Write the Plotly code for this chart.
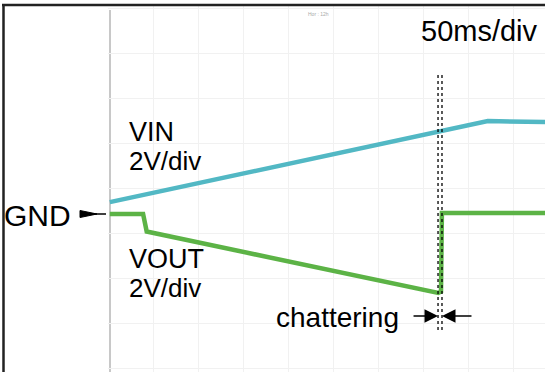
import plotly.graph_objects as go

# --- data (time in ms, voltage in V relative to GND marker) ---
vin_t = [2, 422, 486]
vin_v = [0.53, 4.13, 4.09]

vout_t = [2, 39, 43, 367, 370, 371, 486]
vout_v = [0.0, 0.0, -0.78, -3.51, -3.45, 0.04, 0.04]

chatter_start = 366.7
chatter_end = 371.1

# --- figure geometry (pixels) ---
W, H = 545, 372
L, T = 108, 5
PW, PH = W - L, H - T
MS_PER_PX = 50 / 45.0
V_PER_PX = 2 / 45.0
GND_PY = 214

x_range = [0, PW * MS_PER_PX]
y_range = [(GND_PY - H) * V_PER_PX, (GND_PY - T) * V_PER_PX]


def px(x):
    return (x - L) / PW


def py(y):
    return (H - y) / PH


def vy(y):
    return (GND_PY - y) * V_PER_PX


fig = go.Figure()
fig.add_trace(go.Scatter(x=vin_t, y=vin_v, mode="lines",
                         line=dict(color="#52b8c4", width=4.5), hoverinfo="skip"))
fig.add_trace(go.Scatter(x=vout_t, y=vout_v, mode="lines",
                         line=dict(color="#5cb346", width=4.5), hoverinfo="skip"))

shapes = []
# frame
shapes.append(dict(type="line", xref="paper", yref="paper", x0=px(2), x1=px(W),
                   y0=py(5), y1=py(5), line=dict(color="#222", width=2.5)))
shapes.append(dict(type="line", xref="paper", yref="paper", x0=px(3.5), x1=px(3.5),
                   y0=py(5), y1=py(H), line=dict(color="#222", width=2.5)))
# scope left edge
shapes.append(dict(type="line", xref="paper", yref="paper", x0=px(110), x1=px(110),
                   y0=py(10), y1=py(H), line=dict(color="#c8c8c8", width=2), layer="below"))
# chattering markers
for t in (chatter_start, chatter_end):
    shapes.append(dict(type="line", xref="x", yref="y", x0=t, x1=t,
                       y0=vy(75), y1=vy(332), line=dict(color="black", width=1.3, dash="dot")))
# GND arrow
shapes.append(dict(type="line", xref="paper", yref="paper", x0=px(80), x1=px(106),
                   y0=py(GND_PY), y1=py(GND_PY), line=dict(color="black", width=1.5)))
shapes.append(dict(type="path", xref="paper", yref="paper",
                   path=f"M {px(80)} {py(GND_PY-3.5)} L {px(97)} {py(GND_PY)} L {px(80)} {py(GND_PY+3.5)} Z",
                   fillcolor="black", line=dict(color="black", width=1)))

FAMILY = "Liberation Sans, Arial, sans-serif"
ann = []


def text(s, x, y, size=26, color="black", anchor="left"):
    ann.append(dict(text=s, xref="paper", yref="paper", x=px(x), y=py(y), showarrow=False,
                    xanchor=anchor, yanchor="middle",
                    font=dict(family=FAMILY, size=size, color=color)))


text("50ms/div", 419, 31, size=29)
text("VIN", 127, 132, size=27)
text("2V/div", 127, 161)
text("GND", 2, 215, size=30)
text("VOUT", 127, 259, size=27)
text("2V/div", 127, 288)
text("chattering", 274, 317, size=28)
text("Hor : 12h", 318, 14, size=5, color="#aaa", anchor="center")

arrow_y = vy(316)
ann.append(dict(x=chatter_start, y=arrow_y, xref="x", yref="y", ax=-26, ay=0, text="",
                showarrow=True, arrowhead=2, arrowsize=1.8, arrowwidth=1.5, arrowcolor="black",
                standoff=0))
ann.append(dict(x=chatter_end, y=arrow_y, xref="x", yref="y", ax=31, ay=0, text="",
                showarrow=True, arrowhead=2, arrowsize=1.8, arrowwidth=1.5, arrowcolor="black",
                standoff=0))

fig.update_layout(
    width=W, height=H, margin=dict(l=L, r=0, t=T, b=0),
    paper_bgcolor="white", plot_bgcolor="white", showlegend=False,
    shapes=shapes, annotations=ann,
    xaxis=dict(range=x_range, tick0=0, dtick=50, showgrid=True, gridcolor="#f1f1f1",
               gridwidth=1, zeroline=False, showticklabels=False, ticks="", showline=False),
    yaxis=dict(range=y_range, tick0=vy(233), dtick=2, showgrid=True, gridcolor="#f1f1f1",
               gridwidth=1, zeroline=False, showticklabels=False, ticks="", showline=False),
)
fig.write_html("out.html", config={"displayModeBar": False},
               post_script="document.body.style.margin='0px';")
